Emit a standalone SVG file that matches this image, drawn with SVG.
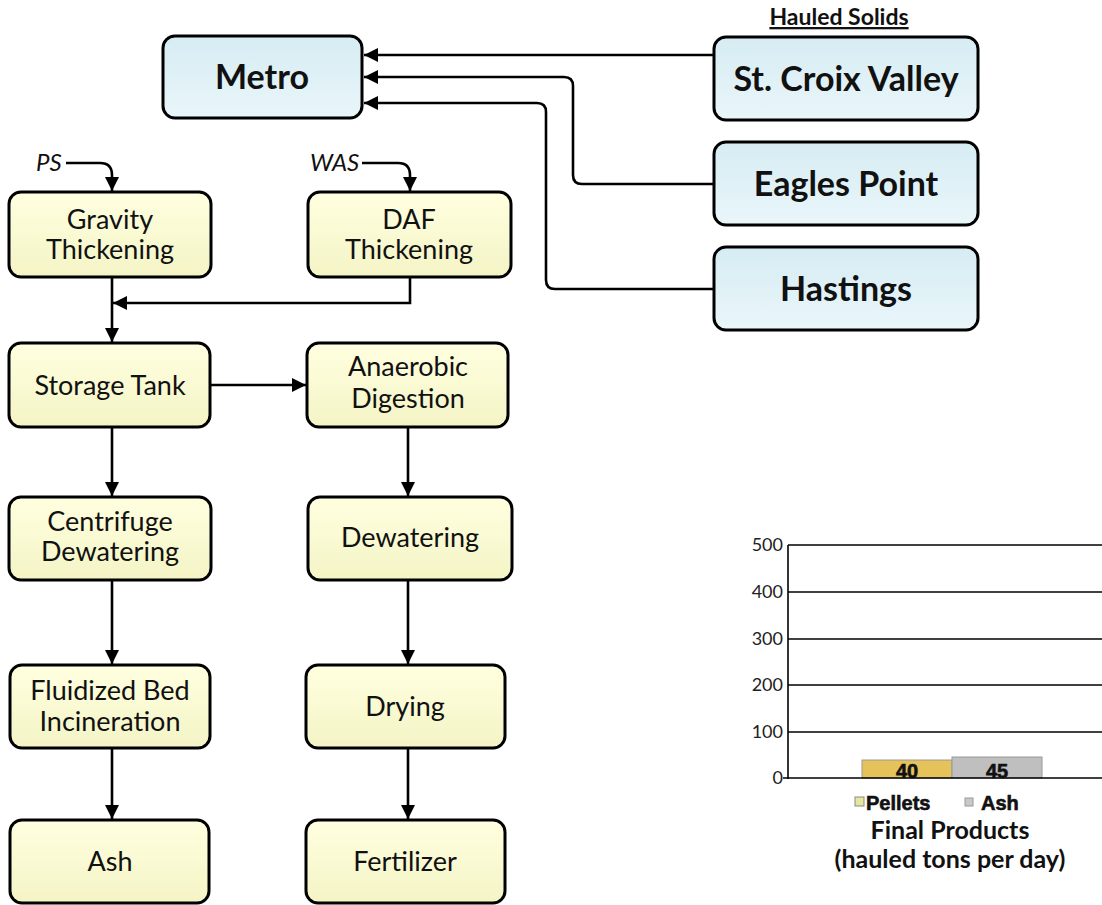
<svg xmlns="http://www.w3.org/2000/svg" width="1102" height="905" viewBox="0 0 1102 905">
<defs>
<linearGradient id="gy" x1="0" y1="0" x2="0" y2="1"><stop offset="0" stop-color="#FFFFE0"/><stop offset="1" stop-color="#F4F4C6"/></linearGradient>
<linearGradient id="gb" x1="0" y1="0" x2="0" y2="1"><stop offset="0" stop-color="#D6ECF3"/><stop offset="1" stop-color="#E9F6FA"/></linearGradient>
<marker id="ah" viewBox="0 0 10 10" refX="10" refY="5" markerWidth="5.5" markerHeight="5.5" markerUnits="strokeWidth" orient="auto"><path d="M0,0 L10,5 L0,10 z" fill="#000"/></marker>
<style>
.y{fill:url(#gy);stroke:#000;stroke-width:3}
.b{fill:url(#gb);stroke:#000;stroke-width:3}
.t{font-family:Lato,"Liberation Sans",sans-serif;font-size:27px;fill:#111;text-anchor:middle}
.tb{font-family:Lato,"Liberation Sans",sans-serif;font-size:34px;font-weight:bold;fill:#111;text-anchor:middle}
.c{fill:none;stroke:#000;stroke-width:2.6;marker-end:url(#ah)}
.g{stroke:#000;stroke-width:1.6}
.ax{font-family:Lato,"Liberation Sans",sans-serif;font-size:18px;fill:#222;text-anchor:end}
</style>
</defs>
<rect width="1102" height="905" fill="#fff"/>
<text x="839" y="25" font-family="Lato,'Liberation Sans',sans-serif" font-size="23" font-weight="bold" text-anchor="middle" text-decoration="underline" fill="#111">Hauled Solids</text>
<g id="connectors">
<path class="c" d="M713,55 H364"/>
<path class="c" d="M713,184 H582 Q573,184 573,175 V86 Q573,77 564,77 H364"/>
<path class="c" d="M713,289 H555 Q546,289 546,280 V112 Q546,103 537,103 H364"/>
<path class="c" d="M66,163 H100 Q112,163 112,175 V191"/>
<path class="c" d="M362,163 H398 Q410,163 410,175 V191"/>
<path class="c" d="M410,277 V303 H113"/>
<path class="c" d="M112,277 V342"/>
<path class="c" d="M210,385 H306"/>
<path class="c" d="M112,427 V496"/>
<path class="c" d="M408,427 V496"/>
<path class="c" d="M112,580 V664"/>
<path class="c" d="M408,580 V664"/>
<path class="c" d="M112,748 V819"/>
<path class="c" d="M408,748 V819"/>
</g>
<text x="36" y="171" font-family="Lato,'Liberation Sans',sans-serif" font-size="24" font-style="italic" fill="#111">PS</text>
<text x="310" y="171" font-family="Lato,'Liberation Sans',sans-serif" font-size="24" font-style="italic" fill="#111">WAS</text>
<g id="metro"><rect class="b" x="163" y="36" width="199" height="82" rx="12"/><text class="tb" x="262" y="89">Metro</text></g>
<g id="stcroix"><rect class="b" x="714" y="37" width="264" height="83" rx="12"/><text class="tb" x="846" y="91">St. Croix Valley</text></g>
<g id="eagles"><rect class="b" x="714" y="142" width="264" height="83" rx="12"/><text class="tb" x="846" y="196">Eagles Point</text></g>
<g id="hastings"><rect class="b" x="714" y="247" width="264" height="83" rx="12"/><text class="tb" x="846" y="301">Hastings</text></g>
<g id="gravity"><rect class="y" x="9" y="192" width="202" height="85" rx="12"/><text class="t" x="110" y="229">Gravity</text><text class="t" x="110" y="259">Thickening</text></g>
<g id="daf"><rect class="y" x="308" y="192" width="203" height="85" rx="12"/><text class="t" x="409" y="229">DAF</text><text class="t" x="409" y="259">Thickening</text></g>
<g id="storage"><rect class="y" x="9" y="343" width="201" height="84" rx="12"/><text class="t" x="110" y="395">Storage Tank</text></g>
<g id="anaerobic"><rect class="y" x="307" y="343" width="201" height="84" rx="12"/><text class="t" x="408" y="376">Anaerobic</text><text class="t" x="408" y="408">Digestion</text></g>
<g id="centrifuge"><rect class="y" x="9" y="497" width="202" height="83" rx="12"/><text class="t" x="110" y="531">Centrifuge</text><text class="t" x="110" y="561">Dewatering</text></g>
<g id="dewatering"><rect class="y" x="308" y="497" width="204" height="83" rx="12"/><text class="t" x="410" y="547">Dewatering</text></g>
<g id="fluidized"><rect class="y" x="10" y="665" width="200" height="83" rx="12"/><text class="t" x="110" y="700">Fluidized Bed</text><text class="t" x="110" y="731">Incineration</text></g>
<g id="drying"><rect class="y" x="306" y="665" width="199" height="83" rx="12"/><text class="t" x="405" y="716">Drying</text></g>
<g id="ash"><rect class="y" x="10" y="820" width="199" height="83" rx="12"/><text class="t" x="110" y="871">Ash</text></g>
<g id="fertilizer"><rect class="y" x="306" y="820" width="199" height="83" rx="12"/><text class="t" x="405" y="871">Fertilizer</text></g>
<g id="chart">
<line class="g" x1="788" y1="545" x2="1102" y2="545"/>
<line class="g" x1="788" y1="592" x2="1102" y2="592"/>
<line class="g" x1="788" y1="639" x2="1102" y2="639"/>
<line class="g" x1="788" y1="685" x2="1102" y2="685"/>
<line class="g" x1="788" y1="732" x2="1102" y2="732"/>
<line class="g" x1="788" y1="545" x2="788" y2="779"/>
<rect x="862" y="760" width="90" height="18" fill="#E5C35A" stroke="#999" stroke-width="1"/>
<rect x="952" y="757" width="90" height="21" fill="#BFBFBF" stroke="#999" stroke-width="1"/>
<line class="g" x1="783" y1="778" x2="1102" y2="778"/>
<text class="ax" x="783" y="551">500</text>
<text class="ax" x="783" y="598">400</text>
<text class="ax" x="783" y="645">300</text>
<text class="ax" x="783" y="691">200</text>
<text class="ax" x="783" y="738">100</text>
<text class="ax" x="783" y="784">0</text>
<text x="907" y="778" font-family="'Liberation Sans',sans-serif" font-size="20" font-weight="bold" text-anchor="middle" fill="#111" stroke="#111" stroke-width="0.6">40</text>
<text x="997" y="778" font-family="'Liberation Sans',sans-serif" font-size="20" font-weight="bold" text-anchor="middle" fill="#111" stroke="#111" stroke-width="0.6">45</text>
<rect x="855" y="797" width="9" height="9" fill="#E6E6A0" stroke="#888" stroke-width="1"/>
<text x="866" y="810" font-family="'Liberation Sans',sans-serif" font-size="20" font-weight="bold" fill="#111" stroke="#111" stroke-width="0.6">Pellets</text>
<rect x="965" y="798" width="8" height="8" fill="#C8C8C8" stroke="#999" stroke-width="1"/>
<text x="981" y="810" font-family="'Liberation Sans',sans-serif" font-size="20" font-weight="bold" fill="#111" stroke="#111" stroke-width="0.6">Ash</text>
<text x="950" y="839" font-family="Lato,'Liberation Sans',sans-serif" font-size="25" font-weight="bold" text-anchor="middle" fill="#111">Final Products</text>
<text x="950" y="868" font-family="Lato,'Liberation Sans',sans-serif" font-size="25" font-weight="bold" text-anchor="middle" fill="#111">(hauled tons per day)</text>
</g>
</svg>
